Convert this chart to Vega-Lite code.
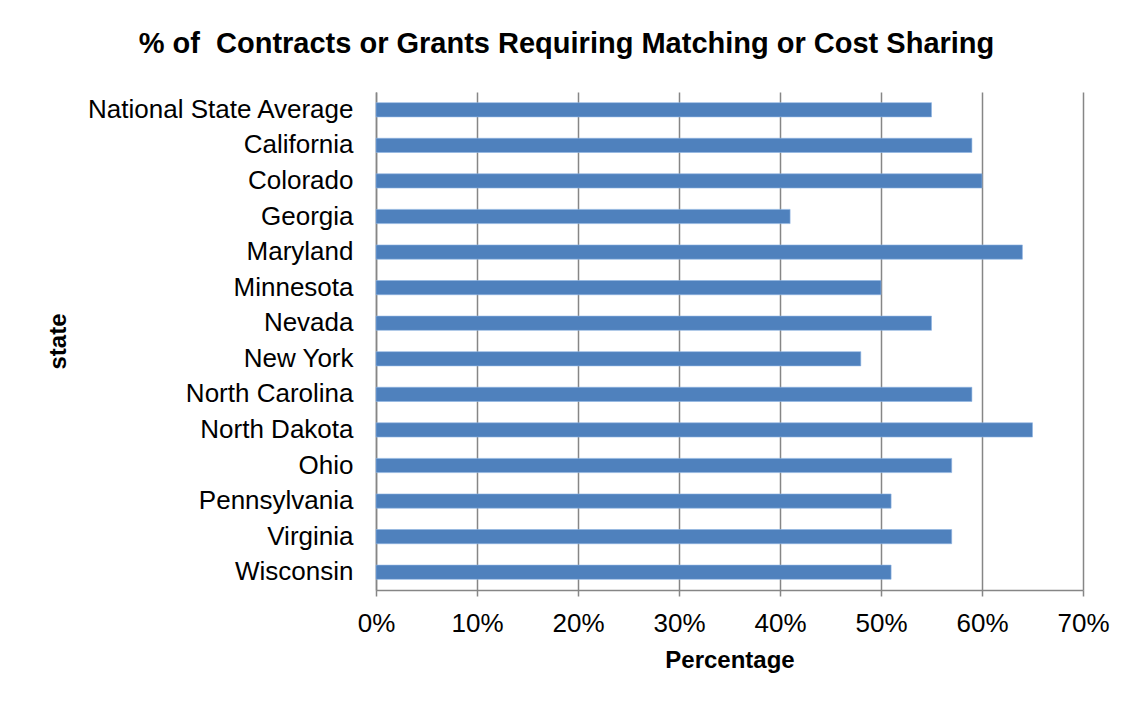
{
  "$schema": "https://vega.github.io/schema/vega-lite/v6.json",
  "width": 707,
  "height": 498,
  "autosize": {"type": "none"},
  "padding": {"left": 376, "top": 92, "right": 47, "bottom": 114},
  "background": "white",
  "title": {
    "text": "% of\u00a0 Contracts or Grants Requiring Matching or Cost Sharing",
    "font": "Liberation Sans",
    "fontSize": 29,
    "fontWeight": "bold",
    "color": "black",
    "anchor": "middle",
    "dx": -163,
    "dy": 30,
    "offset": 40,
    "baseline": "alphabetic"
  },
  "data": {
    "values": [
      {"state": "National State Average", "pct": 0.55},
      {"state": "California", "pct": 0.59},
      {"state": "Colorado", "pct": 0.60},
      {"state": "Georgia", "pct": 0.41},
      {"state": "Maryland", "pct": 0.64},
      {"state": "Minnesota", "pct": 0.50},
      {"state": "Nevada", "pct": 0.55},
      {"state": "New York", "pct": 0.48},
      {"state": "North Carolina", "pct": 0.59},
      {"state": "North Dakota", "pct": 0.65},
      {"state": "Ohio", "pct": 0.57},
      {"state": "Pennsylvania", "pct": 0.51},
      {"state": "Virginia", "pct": 0.57},
      {"state": "Wisconsin", "pct": 0.51}
    ]
  },
  "mark": {"type": "bar", "color": "#4F81BD", "stroke": "#8EB4E3", "strokeWidth": 0.6},
  "encoding": {
    "y": {
      "field": "state",
      "type": "nominal",
      "sort": null,
      "scale": {"paddingInner": 0.6, "paddingOuter": 0.3},
      "axis": {
        "title": "state",
        "domain": true,
        "domainColor": "#868686",
        "domainWidth": 1.5,
        "ticks": false,
        "grid": false,
        "labelPadding": 23,
        "labelFont": "Liberation Sans",
        "labelFontSize": 26,
        "labelColor": "black",
        "labelLimit": 400,
        "titleFont": "Liberation Sans",
        "titleFontSize": 24,
        "titleFontWeight": "bold",
        "titleColor": "black",
        "titleX": -306,
        "titleY": 249
      }
    },
    "x": {
      "field": "pct",
      "type": "quantitative",
      "scale": {"domain": [0, 0.7], "nice": false},
      "axis": {
        "title": "Percentage",
        "format": ".0%",
        "values": [0, 0.1, 0.2, 0.3, 0.4, 0.5, 0.6, 0.7],
        "grid": true,
        "gridColor": "#868686",
        "gridWidth": 1.5,
        "domainColor": "#868686",
        "domainWidth": 1.5,
        "tickColor": "#868686",
        "tickWidth": 1.5,
        "tickSize": 6,
        "labelPadding": 14,
        "labelFlush": false,
        "labelFont": "Liberation Sans",
        "labelFontSize": 26,
        "labelColor": "black",
        "titleFont": "Liberation Sans",
        "titleFontSize": 24,
        "titleFontWeight": "bold",
        "titleColor": "black",
        "titlePadding": 12
      }
    }
  },
  "config": {"view": {"stroke": null}}
}
